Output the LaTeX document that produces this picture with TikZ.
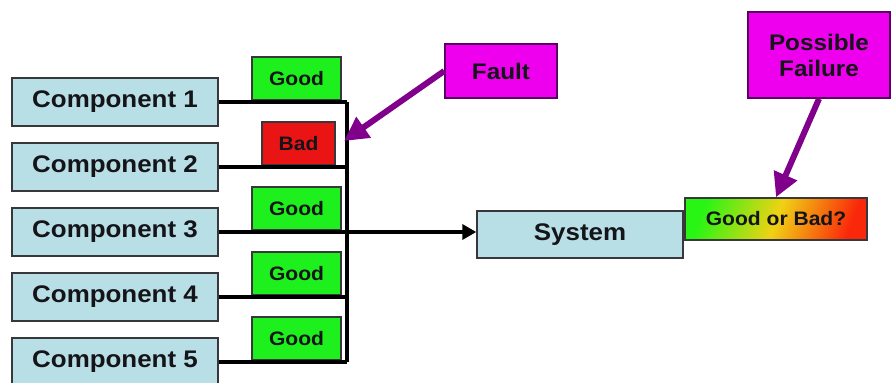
\documentclass[tikz,border=0pt]{standalone}
\usepackage{fontspec}
\setmainfont[FakeStretch=1.08]{Liberation Sans}
\usetikzlibrary{arrows.meta}
\definecolor{compblue}{RGB}{184,222,230}
\definecolor{goodgreen}{RGB}{30,240,30}
\definecolor{badred}{RGB}{235,20,20}
\definecolor{notemag}{RGB}{238,0,238}
\definecolor{arrowpurple}{RGB}{128,0,140}
\definecolor{boxedge}{RGB}{55,55,60}
\definecolor{inktext}{RGB}{20,20,25}
\definecolor{shadegreen}{RGB}{40,245,20}
\definecolor{shadeyellow}{RGB}{240,210,20}
\definecolor{shadered}{RGB}{250,40,10}
\tikzset{
  compbox/.style={draw=boxedge, line width=1.4pt, fill=compblue, minimum width=206pt,
    minimum height=48pt, inner sep=0pt, text=inktext, font=\bfseries\fontsize{24}{28}\selectfont},
  statebox/.style={draw=boxedge, line width=1.2pt, minimum height=43pt, inner sep=0pt,
    text=inktext, font=\fontsize{19.5}{22}\selectfont},
  notebox/.style={draw=arrowpurple!70!black, line width=1.6pt, fill=notemag, inner sep=0pt,
    text=inktext, font=\bfseries\fontsize{22.5}{26}\selectfont, align=center},
  wire/.style={line width=3.4pt, black},
  pointer/.style={line width=6pt, arrowpurple, -{Triangle[length=24pt,width=24pt]}},
}
\begin{document}
\begin{tikzpicture}[x=1pt, y=-1pt]
  \useasboundingbox (0,0) rectangle (892,383);
  \clip (0,0) rectangle (892,383);
  \fill[white] (0,0) rectangle (892,383);

  % components on the left
  \node[compbox] (c1) at (115,102) {Component 1};
  \node[compbox] (c2) at (115,167) {Component 2};
  \node[compbox] (c3) at (115,232) {Component 3};
  \node[compbox] (c4) at (115,297) {Component 4};
  \node[compbox] (c5) at (115,362) {Component 5};

  % state of each component
  \node[statebox, fill=goodgreen, minimum width=89pt] (g1) at (296.5,78.5) {\bfseries Good};
  \node[statebox, fill=badred, minimum width=73pt] (b2) at (298.5,143.5) {\bfseries Bad};
  \node[statebox, fill=goodgreen, minimum width=89pt] (g3) at (296.5,208.5) {\bfseries Good};
  \node[statebox, fill=goodgreen, minimum width=89pt] (g4) at (296.5,273.5) {\bfseries Good};
  \node[statebox, fill=goodgreen, minimum width=89pt] (g5) at (296.5,338.5) {\bfseries Good};

  % collecting bus
  \coordinate (busTop) at (347,102);
  \coordinate (busBot) at (347,362);
  \draw[wire] (busTop) -- (busBot);
  \draw[wire] (c1.east) -- (c1.east -| busTop);
  \draw[wire] (c2.east) -- (c2.east -| busTop);
  \draw[wire] (c4.east) -- (c4.east -| busTop);
  \draw[wire] (c5.east) -- (c5.east -| busTop);

  % system and its outcome
  \node[compbox, minimum width=206pt, minimum height=47pt] (sys) at (580,234.5) {System};
  \draw[wire, -{Triangle[length=14pt,width=15pt]}] (c3.east) -- (c3.east -| sys.west);

  \node[draw=boxedge, line width=1.4pt, minimum width=182pt, minimum height=42pt, inner sep=0pt,
        left color=shadegreen, right color=shadered, middle color=shadeyellow,
        shading angle=70, text=inktext, font=\bfseries\fontsize{19.5}{22}\selectfont]
        (gb) at (776,219) {Good or Bad?};

  % annotations
  \node[notebox, minimum width=112pt, minimum height=54pt] (fault) at (501,71) {Fault};
  \coordinate (faultTip) at (344,141);
  \draw[pointer] (fault.west) -- (faultTip);

  \node[notebox, minimum width=142pt, minimum height=86pt] (pf) at (819,55) {Possible\\Failure};
  \draw[pointer] (pf.south) -- (gb.north);
\end{tikzpicture}
\end{document}
